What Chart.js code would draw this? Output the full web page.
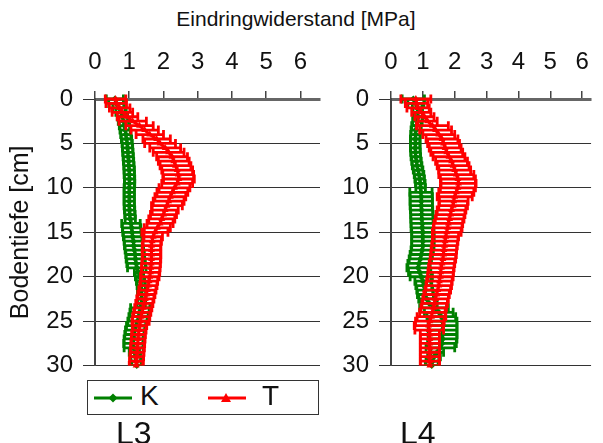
<!DOCTYPE html>
<html>
<head>
<meta charset="utf-8">
<script src="https://cdn.jsdelivr.net/npm/chart.js@4.4.1/dist/chart.umd.min.js"></script>
<style>
  html, body { margin: 0; padding: 0; background: #fff; }
  body { width: 603px; height: 443px; position: relative; overflow: hidden;
         font-family: 'Liberation Sans', Arial, sans-serif; color: #111; }
  .abs { position: absolute; }
  #title { left: 0; width: 592px; top: 8px; text-align: center; font-size: 21px; line-height: 1; }
  #c1wrap { left: 0; top: 0; width: 325px; height: 390px; }
  #c2wrap { left: 300px; top: 0; width: 303px; height: 390px; }
  #legend { left: 87px; top: 380px; width: 230px; height: 33px; border: 1px solid #333; background: #fff; }
  .lt { position: absolute; top: 1px; font-size: 28px; line-height: 1; }
  .pl { font-size: 32px; line-height: 1; top: 417px; }
</style>
</head>
<body>
<div id="title" class="abs">Eindringwiderstand [MPa]</div>
<div id="c1wrap" class="abs"><canvas id="c1" width="325" height="390"></canvas></div>
<div id="c2wrap" class="abs"><canvas id="c2" width="303" height="390"></canvas></div>
<div id="legend" class="abs">
  <svg class="abs" style="left:0;top:0" width="230" height="33">
    <line x1="6" y1="17" x2="44" y2="17" stroke="#008000" stroke-width="3"/>
    <polygon points="25,12.5 29.5,17 25,21.5 20.5,17" fill="#008000"/>
    <line x1="120" y1="17" x2="158" y2="17" stroke="#ff0000" stroke-width="3"/>
    <polygon points="138,12 143,21 133,21" fill="#ff0000"/>
  </svg>
  <span class="lt" style="left:52px">K</span>
  <span class="lt" style="left:174px">T</span>
</div>
<div class="abs pl" style="left:116px">L3</div>
<div class="abs pl" style="left:400px">L4</div>
<script>
// ---- data ----
const depth = [0,0.5,1,1.5,2,2.5,3,3.5,4,4.5,5,5.5,6,6.5,7,7.5,8,8.5,9,9.5,10,10.5,11,11.5,12,12.5,13,13.5,14,14.5,15,15.5,16,16.5,17,17.5,18,18.5,19,19.5,20,20.5,21,21.5,22,22.5,23,23.5,24,24.5,25,25.5,26,26.5,27,27.5,28,28.5,29,29.5,30];
const xTickLabels = [0,1,2,3,4,5,6];
const yTickLabels = [0,5,10,15,20,25,30];
const seriesNames = ['K','T'];
const panelNames = ['L3','L4'];

// L3
const L3_K = [0.58,0.62,0.7,0.76,0.8,0.83,0.86,0.88,0.9,0.92,0.94,0.95,0.96,0.97,0.98,0.99,1.0,1.0,1.01,1.01,1.0,1.0,1.0,1.0,1.0,1.01,1.02,1.03,1.05,1.07,1.08,1.1,1.12,1.13,1.15,1.17,1.18,1.2,1.22,1.27,1.3,1.33,1.35,1.36,1.37,1.36,1.35,1.32,1.3,1.27,1.24,1.2,1.17,1.15,1.13,1.12,1.13,1.15,1.18,1.2,1.22];
const L3_Kerr = [0.25,0.22,0.18,0.15,0.15,0.15,0.15,0.15,0.15,0.15,0.15,0.15,0.15,0.15,0.15,0.15,0.15,0.15,0.15,0.15,0.15,0.15,0.15,0.15,0.15,0.15,0.15,0.15,0.27,0.27,0.27,0.27,0.27,0.27,0.27,0.27,0.27,0.27,0.27,0.12,0.12,0.12,0.12,0.12,0.12,0.12,0.12,0.28,0.28,0.28,0.28,0.28,0.28,0.28,0.28,0.28,0.28,0.15,0.15,0.15,0.15];
const L3_T = [0.6,0.62,0.72,0.8,0.95,1.1,1.3,1.45,1.6,1.8,1.9,2.05,2.15,2.25,2.3,2.35,2.4,2.43,2.45,2.4,2.32,2.26,2.2,2.15,2.1,2.05,2.0,1.95,1.9,1.82,1.75,1.7,1.67,1.65,1.65,1.65,1.65,1.64,1.63,1.62,1.6,1.58,1.56,1.53,1.5,1.47,1.44,1.41,1.38,1.35,1.33,1.31,1.29,1.27,1.26,1.25,1.24,1.23,1.22,1.21,1.2];
const L3_Terr = [0.3,0.3,0.3,0.3,0.3,0.4,0.4,0.4,0.4,0.4,0.45,0.45,0.45,0.45,0.45,0.45,0.45,0.45,0.45,0.45,0.45,0.45,0.45,0.45,0.45,0.38,0.38,0.38,0.38,0.38,0.38,0.27,0.27,0.27,0.27,0.27,0.27,0.27,0.27,0.27,0.27,0.25,0.25,0.25,0.25,0.25,0.25,0.25,0.25,0.25,0.25,0.2,0.2,0.2,0.2,0.2,0.2,0.2,0.2,0.2,0.2];

// L4
const L4_K = [0.7,0.78,0.82,0.84,0.85,0.83,0.8,0.78,0.77,0.76,0.76,0.76,0.77,0.78,0.8,0.82,0.85,0.88,0.9,0.92,0.93,0.94,0.95,0.95,0.95,0.96,0.97,0.97,0.98,0.98,1.0,1.0,1.0,1.0,0.98,0.95,0.92,0.88,0.85,0.9,0.95,1.0,1.03,1.06,1.08,1.12,1.2,1.35,1.5,1.58,1.62,1.62,1.62,1.62,1.62,1.6,1.55,1.45,1.35,1.3,1.28];
const L4_Kerr = [0.35,0.25,0.15,0.15,0.15,0.15,0.15,0.15,0.15,0.15,0.15,0.15,0.15,0.15,0.15,0.15,0.15,0.15,0.15,0.15,0.15,0.35,0.35,0.35,0.35,0.35,0.35,0.35,0.35,0.35,0.35,0.35,0.35,0.35,0.35,0.35,0.35,0.35,0.35,0.35,0.35,0.25,0.25,0.25,0.25,0.25,0.25,0.45,0.45,0.45,0.45,0.45,0.45,0.45,0.45,0.45,0.45,0.2,0.2,0.2,0.2];
const L4_T = [0.78,0.8,0.85,0.95,1.05,1.15,1.3,1.4,1.5,1.6,1.65,1.7,1.75,1.82,1.9,1.95,2.0,2.05,2.1,2.12,2.1,2.05,2.0,1.97,1.95,1.9,1.87,1.84,1.8,1.78,1.75,1.72,1.7,1.68,1.66,1.65,1.63,1.6,1.58,1.56,1.55,1.52,1.5,1.47,1.43,1.4,1.37,1.34,1.3,1.27,1.22,1.18,1.2,1.22,1.22,1.22,1.22,1.22,1.22,1.22,1.22];
const L4_Terr = [0.47,0.35,0.35,0.3,0.3,0.3,0.5,0.5,0.5,0.5,0.5,0.5,0.5,0.5,0.5,0.5,0.5,0.55,0.55,0.55,0.55,0.55,0.55,0.45,0.45,0.45,0.45,0.45,0.45,0.45,0.45,0.4,0.4,0.4,0.4,0.4,0.4,0.4,0.4,0.4,0.4,0.4,0.4,0.4,0.4,0.4,0.4,0.4,0.4,0.45,0.45,0.45,0.45,0.3,0.3,0.3,0.3,0.3,0.3,0.3,0.3];

Chart.defaults.font.family = "'Liberation Sans', Arial, sans-serif";
Chart.defaults.color = '#111';

const errorBarPlugin = {
  id: 'errorBars',
  beforeDatasetDraw(chart, args) {
    const ds = chart.data.datasets[args.index];
    if (!ds.errors) return;
    const xs = chart.scales.x, ys = chart.scales.y, ctx = chart.ctx, a = chart.chartArea;
    ctx.save();
    ctx.beginPath();
    ctx.rect(a.left, a.top - 8, a.right - a.left, a.bottom - a.top + 8);
    ctx.clip();
    ctx.strokeStyle = ds.borderColor;
    ctx.lineWidth = 2.8;
    ds.data.forEach((p, i) => {
      const e = ds.errors[i];
      const x1 = xs.getPixelForValue(p.x - e), x2 = xs.getPixelForValue(p.x + e);
      const y = ys.getPixelForValue(p.y);
      ctx.beginPath();
      ctx.moveTo(x1, y); ctx.lineTo(x2, y);
      ctx.moveTo(x1, y - 4.5); ctx.lineTo(x1, y + 4.5);
      ctx.moveTo(x2, y - 4.5); ctx.lineTo(x2, y + 4.5);
      ctx.stroke();
    });
    ctx.restore();
  }
};

function pts(vals) { return vals.map((v, i) => ({ x: v, y: depth[i] })); }

function makeChart(id, kM, kE, tM, tE, xMax, leftW, padRight, showYTitle) {
  return new Chart(document.getElementById(id), {
    type: 'scatter',
    data: {
      datasets: [
        { label: seriesNames[0], data: pts(kM), errors: kE, showLine: true,
          borderColor: '#008000', backgroundColor: '#008000', borderWidth: 3,
          pointStyle: 'rectRot', pointRadius: 3.5, pointBorderWidth: 0, order: 2,
          clip: { left: 0, top: 8, right: 0, bottom: 4 } },
        { label: seriesNames[1], data: pts(tM), errors: tE, showLine: true,
          borderColor: '#ff0000', backgroundColor: '#ff0000', borderWidth: 3,
          pointStyle: 'triangle', pointRadius: 4, pointBorderWidth: 0, order: 1,
          clip: { left: 0, top: 8, right: 0, bottom: 4 } }
      ]
    },
    options: {
      responsive: false, animation: false, events: [],
      layout: { padding: { left: 0, right: padRight, top: 0, bottom: 0 } },
      plugins: { legend: { display: false }, tooltip: { enabled: false } },
      scales: {
        x: {
          type: 'linear', position: 'top', min: 0, max: xMax,
          afterBuildTicks: s => { s.ticks = xTickLabels.map(v => ({ value: v })); },
          ticks: { font: { size: 24 }, color: '#111', padding: 14, maxRotation: 0, autoSkip: false },
          grid: { drawOnChartArea: false, tickLength: 8, color: '#444', lineWidth: 1.5 },
          border: { color: '#666', width: 3 },
          afterFit: s => { s.height = 99; }
        },
        y: {
          type: 'linear', reverse: true, min: 0, max: 30,
          afterBuildTicks: s => { s.ticks = yTickLabels.map(v => ({ value: v })); },
          ticks: { font: { size: 24 }, color: '#111', padding: 10, autoSkip: false },
          grid: { color: '#333', lineWidth: 1, tickLength: 12 },
          border: { color: '#444', width: 2 },
          title: { display: showYTitle, text: 'Bodentiefe [cm]', font: { size: 25 }, color: '#111', padding: { top: 6, bottom: 0 } },
          afterFit: s => { s.width = leftW; }
        }
      }
    },
    plugins: [errorBarPlugin]
  });
}

const ch1 = makeChart('c1', L3_K, L3_Kerr, L3_T, L3_Terr, 6.57, 95, 5, true);
const ch2 = makeChart('c2', L4_K, L4_Kerr, L4_T, L4_Terr, 6.28, 91, 0, false);
</script>
</body>
</html>
